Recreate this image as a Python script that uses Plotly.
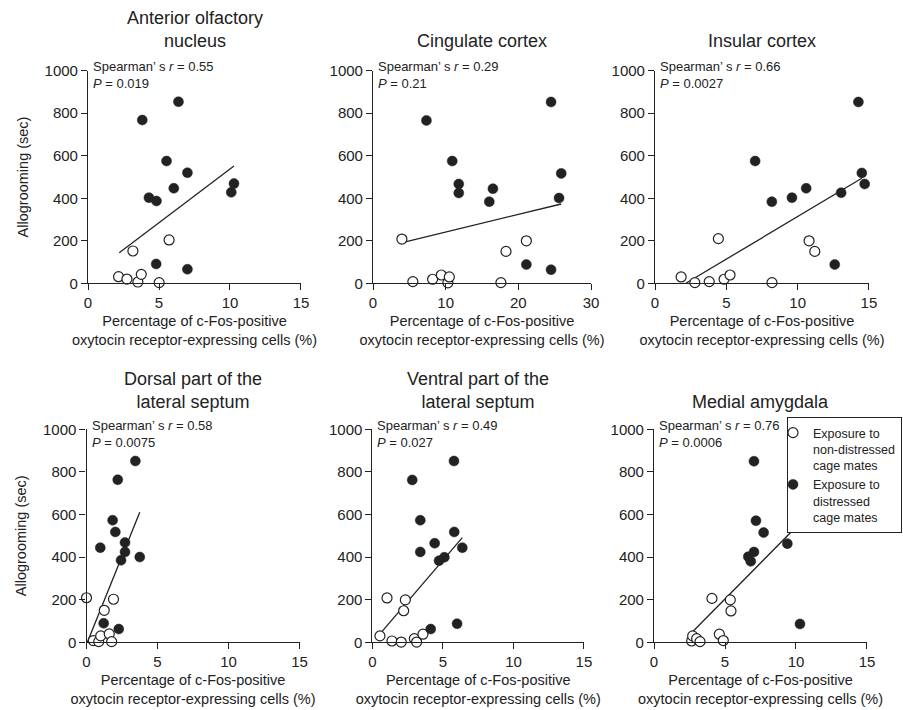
import plotly.graph_objects as go

# ---------------- data ----------------
panel_titles = ["Anterior olfactory<br>nucleus", "Cingulate cortex", "Insular cortex",
                "Dorsal part of the<br>lateral septum", "Ventral part of the<br>lateral septum",
                "Medial amygdala"]
spearman_r = ["0.55", "0.29", "0.66", "0.58", "0.49", "0.76"]
p_values = ["0.019", "0.21", "0.0027", "0.0075", "0.027", "0.0006"]
x_max = [15, 30, 15, 15, 15, 15]
x_dtick = [5, 10, 5, 5, 5, 5]
y_ticks = [0, 200, 400, 600, 800, 1000]

# Anterior olfactory nucleus
aon_open_x = [2.15, 2.74, 3.16, 3.51, 3.75, 5.01, 5.71]
aon_open_y = [31, 20, 152, 6, 42, 3, 204]
aon_fill_x = [3.82, 4.29, 4.80, 4.82, 5.53, 6.04, 6.37, 7.0, 7.0, 10.09, 10.28]
aon_fill_y = [768, 403, 91, 387, 575, 447, 854, 520, 66, 428, 469]
aon_fit_x = [2.2, 10.28]
aon_fit_y = [144, 552]

# Cingulate cortex
cg_open_x = [3.97, 5.48, 8.2, 9.4, 10.3, 10.5, 17.6, 18.3, 21.1]
cg_open_y = [208, 8, 19, 39, 2, 30, 3, 150, 200]
cg_fill_x = [7.35, 10.9, 11.8, 11.8, 16.0, 16.5, 21.1, 24.5, 24.5, 25.6, 25.9]
cg_fill_y = [766, 575, 467, 425, 384, 445, 88, 853, 64, 401, 517]
cg_fit_x = [4.16, 25.9]
cg_fit_y = [193, 373]

# Insular cortex
ins_open_x = [1.83, 2.79, 3.8, 4.44, 4.84, 5.26, 8.2, 10.8, 11.2]
ins_open_y = [30, 3, 8, 210, 19, 39, 3, 200, 150]
ins_fill_x = [7.02, 8.19, 9.6, 10.6, 12.6, 13.05, 14.26, 14.5, 14.7]
ins_fill_y = [575, 384, 403, 447, 88, 426, 853, 519, 467]
ins_fit_x = [2.16, 14.5]
ins_fit_y = [0, 494]

# Dorsal part of the lateral septum
dls_open_x = [0.0, 0.48, 0.86, 1.0, 1.25, 1.6, 1.77, 1.9]
dls_open_y = [209, 8, 3, 30, 150, 39, 3, 202]
dls_fill_x = [0.97, 1.21, 1.84, 2.03, 2.2, 2.27, 2.43, 2.71, 2.71, 3.44, 3.75]
dls_fill_y = [444, 89, 573, 518, 763, 62, 385, 468, 424, 851, 400]
dls_fit_x = [0.06, 3.75]
dls_fit_y = [0, 610]

# Ventral part of the lateral septum
vls_open_x = [0.53, 1.03, 1.38, 2.04, 2.21, 2.33, 2.97, 3.13, 3.58]
vls_open_y = [30, 208, 6, 1, 148, 199, 17, 1, 38]
vls_fill_x = [2.82, 3.39, 3.39, 4.13, 4.41, 4.72, 5.1, 5.78, 5.8, 6.0, 6.37]
vls_fill_y = [762, 573, 424, 62, 465, 383, 399, 851, 518, 87, 444]
vls_fit_x = [0.41, 6.37]
vls_fit_y = [30, 491]

# Medial amygdala
mea_open_x = [2.65, 2.72, 3.0, 3.24, 4.08, 4.6, 4.88, 5.37, 5.42]
mea_open_y = [6, 30, 17, 3, 206, 38, 8, 199, 147]
mea_fill_x = [6.64, 6.81, 7.04, 7.04, 7.18, 7.72, 9.39, 10.28]
mea_fill_y = [402, 380, 850, 424, 571, 515, 463, 86]
mea_fit_x = [2.77, 10.3]
mea_fit_y = [53, 561]

open_x = [aon_open_x, cg_open_x, ins_open_x, dls_open_x, vls_open_x, mea_open_x]
open_y = [aon_open_y, cg_open_y, ins_open_y, dls_open_y, vls_open_y, mea_open_y]
fill_x = [aon_fill_x, cg_fill_x, ins_fill_x, dls_fill_x, vls_fill_x, mea_fill_x]
fill_y = [aon_fill_y, cg_fill_y, ins_fill_y, dls_fill_y, vls_fill_y, mea_fill_y]
fit_x = [aon_fit_x, cg_fit_x, ins_fit_x, dls_fit_x, vls_fit_x, mea_fit_x]
fit_y = [aon_fit_y, cg_fit_y, ins_fit_y, dls_fit_y, vls_fit_y, mea_fit_y]

legend_open = "Exposure to<br>non-distressed<br>cage mates"
legend_fill = "Exposure to<br>distressed<br>cage mates"
x_title = "Percentage of c-Fos-positive<br>oxytocin receptor-expressing cells (%)"
y_title = "Allogrooming (sec)"

# ---------------- layout geometry ----------------
W, H = 903, 710
INK = "#222222"
FONT = "Liberation Sans, Arial, sans-serif"

x_domains = [[0.0975, 0.3333], [0.4131, 0.6545], [0.7254, 0.9623],
             [0.0958, 0.3317], [0.4125, 0.6467], [0.7243, 0.9601]]
y_domains = [[0.601, 0.9004]] * 3 + [[0.0954, 0.3954]] * 3
title_y = [0.9258] * 3 + [0.4169] * 3

fig = go.Figure()
layout = dict(
    width=W, height=H,
    margin=dict(l=0, r=0, t=0, b=0),
    paper_bgcolor="white", plot_bgcolor="white",
    font=dict(family=FONT, color=INK, size=14),
    showlegend=True,
    legend=dict(
        x=787 / W, y=1 - 417 / H, xanchor="left", yanchor="top",
        bgcolor="white", bordercolor=INK, borderwidth=1,
        font=dict(size=12.5, family=FONT, color=INK),
        valign="top", indentation=-15, itemwidth=30,
        tracegroupgap=0,
    ),
)
annotations = []

for i in range(6):
    ax = "" if i == 0 else str(i + 1)
    xa, ya = "x" + ax, "y" + ax
    layout["xaxis" + ax] = dict(
        domain=x_domains[i], anchor=ya, range=[0, x_max[i]], dtick=x_dtick[i], tick0=0,
        showline=True, linecolor=INK, linewidth=1.2, ticks="outside", ticklen=6,
        tickwidth=1.2, tickcolor=INK, showgrid=False, zeroline=False, automargin=False,
        tickfont=dict(size=15), title=dict(text=x_title, font=dict(size=14.5), standoff=5),
    )
    ydict = dict(
        domain=y_domains[i], anchor=xa, range=[0, 1000], tickvals=y_ticks,
        showline=True, linecolor=INK, linewidth=1.2, ticks="outside", ticklen=6,
        tickwidth=1.2, tickcolor=INK, showgrid=False, zeroline=False, automargin=False,
        tickfont=dict(size=15),
    )
    if i % 3 == 0:
        ydict["title"] = dict(text=y_title, font=dict(size=14.5), standoff=12)
    layout["yaxis" + ax] = ydict

    show = (i == 5)
    fig.add_trace(go.Scatter(
        x=fit_x[i], y=fit_y[i], xaxis=xa, yaxis=ya, mode="lines",
        line=dict(color=INK, width=1.3), showlegend=False, hoverinfo="skip"))
    fig.add_trace(go.Scatter(
        x=open_x[i], y=open_y[i], xaxis=xa, yaxis=ya, mode="markers",
        marker=dict(symbol="circle", size=10, color="white", line=dict(color=INK, width=1.2)),
        name=legend_open, showlegend=show, cliponaxis=False))
    fig.add_trace(go.Scatter(
        x=fill_x[i], y=fill_y[i], xaxis=xa, yaxis=ya, mode="markers",
        marker=dict(symbol="circle", size=10, color=INK, line=dict(color=INK, width=0.5)),
        name=legend_fill, showlegend=show, cliponaxis=False))

    annotations.append(dict(
        text=panel_titles[i], xref=xa + " domain", yref="paper", x=0.5, y=title_y[i],
        xanchor="center", yanchor="bottom", showarrow=False,
        font=dict(size=18, family=FONT, color=INK), align="center"))
    annotations.append(dict(
        text="Spearman\u2019 s <i>r</i> = " + spearman_r[i] + "<br><i>P</i> = " + p_values[i],
        xref=xa + " domain", yref=ya + " domain", x=0, y=1, xshift=3, yshift=13.5,
        xanchor="left", yanchor="top", showarrow=False, align="left",
        font=dict(size=13, family=FONT, color=INK)))

layout["annotations"] = annotations
fig.update_layout(**layout)
fig.write_html("out.html", config={"displayModeBar": False},
               post_script="document.body.style.margin='0px';document.body.style.overflow='hidden';")
